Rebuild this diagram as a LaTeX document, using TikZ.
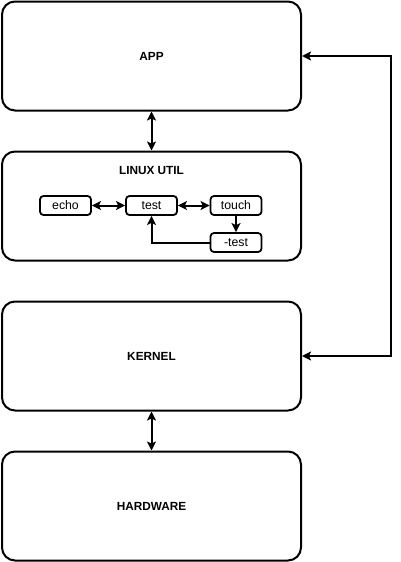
\documentclass[tikz,border=0pt]{standalone}
\usepackage{fontspec}
\setmainfont{Liberation Sans}
\usetikzlibrary{arrows.meta}
\begin{document}
\begin{tikzpicture}[x=1pt,y=-1pt,
  bigbox/.style={draw,line width=2pt,rounded corners=13pt,minimum width=299pt,minimum height=109pt,inner sep=0pt},
  smallbox/.style={draw,line width=1.8pt,rounded corners=3.5pt,minimum width=51pt,minimum height=19pt,inner sep=0pt,text height=8.6pt,text depth=0pt,font=\fontsize{12.3}{13}\selectfont},
  lbl/.style={font=\fontsize{11.8}{13}\bfseries\selectfont},
  conn/.style={line width=2pt,{Stealth[length=9pt,width=9pt,inset=2pt]}-{Stealth[length=9pt,width=9pt,inset=2pt]}},
  oneway/.style={line width=2pt,-{Stealth[length=9pt,width=9pt,inset=2pt]}}]
\useasboundingbox (0,0) rectangle (400,562);
\node[bigbox] (app) at (151.5,56) {};
\node[lbl] (applbl) at (151.5,56) {APP};
\node[bigbox] (util) at (151.5,206) {};
\node[lbl] (utillbl) at (151.5,170) {LINUX UTIL};
\node[bigbox] (kernel) at (151.5,356) {};
\node[lbl] (kernellbl) at (151.5,356) {KERNEL};
\node[bigbox] (hw) at (151.5,506) {};
\node[lbl] (hwlbl) at (151.5,506) {HARDWARE};

\node[smallbox] (echo) at (65.5,205.5) {echo};
\node[smallbox] (test) at (151.5,205.5) {test};
\node[smallbox] (touch) at (236,205.5) {touch};
\node[smallbox] (ntest) at (236,242.5) {-test};

\draw[conn] (app.south) -- (util.north);
\draw[conn] (kernel.south) -- (hw.north);
\draw[conn] (echo.east) -- (test.west);
\draw[conn] (test.east) -- (touch.west);
\draw[oneway] (touch.south) -- (ntest.north);
\draw[oneway] (ntest.west) -| (test.south);
\coordinate (rt) at (391,56);
\coordinate (rb) at (391,356);
\draw[conn] (app.east) -- (rt) -- (rb) -- (kernel.east);
\end{tikzpicture}
\end{document}
